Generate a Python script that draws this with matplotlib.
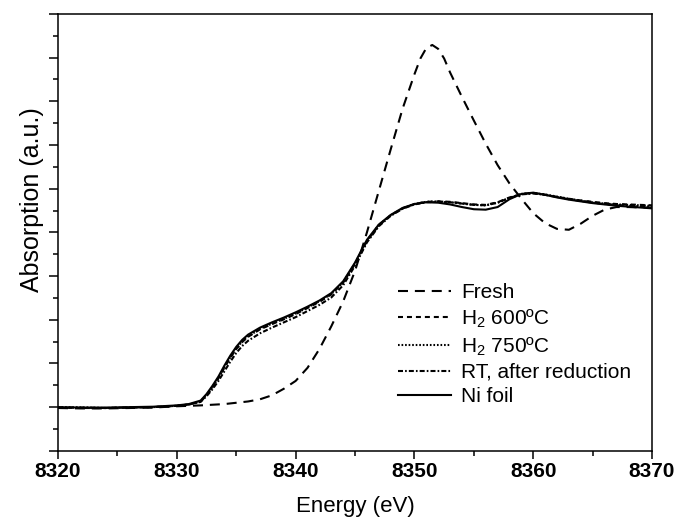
import numpy as np
import matplotlib.pyplot as plt
from matplotlib.ticker import MultipleLocator

plt.rcParams['font.family'] = ['Liberation Sans', 'DejaVu Sans']
plt.rcParams['mathtext.fontset'] = 'custom'
plt.rcParams['mathtext.rm'] = 'Liberation Sans'

# energy grid of the fresh sample (eV)
e_fresh = [8320, 8322, 8324, 8326, 8328, 8330, 8332, 8334, 8336, 8337, 8338, 8339,
           8340, 8341, 8342, 8343, 8344, 8345, 8346, 8347, 8348, 8349, 8350, 8350.5,
           8351, 8351.5, 8352, 8352.5, 8353, 8354, 8355, 8356, 8357, 8358, 8359, 8360,
           8361, 8362, 8363, 8364, 8365, 8366, 8367, 8368, 8369, 8370]
fresh = [0.98, 0.97, 0.97, 0.98, 0.99, 1.02, 1.04, 1.07, 1.13, 1.18, 1.27, 1.42,
         1.60, 1.90, 2.33, 2.85, 3.42, 4.12, 5.00, 5.95, 6.90, 7.83, 8.62, 8.98,
         9.22, 9.29, 9.20, 8.98, 8.66, 8.10, 7.56, 7.03, 6.54, 6.12, 5.77, 5.44,
         5.21, 5.08, 5.06, 5.20, 5.38, 5.52, 5.58, 5.58, 5.57, 5.57]

# energy grid of the reduced samples and the foil (eV)
e_red = [8320, 8322, 8324, 8326, 8328, 8330, 8331, 8332, 8332.5, 8333, 8333.5, 8334,
         8334.5, 8335, 8335.5, 8336, 8337, 8338, 8339, 8340, 8341, 8342, 8343, 8344,
         8345, 8346, 8347, 8348, 8349, 8350, 8351, 8352, 8353, 8354, 8355, 8356,
         8357, 8358, 8359, 8360, 8361, 8362, 8363, 8364, 8365, 8366, 8367, 8368,
         8369, 8370]
h2_600 = [0.99, 0.98, 0.98, 0.99, 1.00, 1.03, 1.06, 1.13, 1.27, 1.45, 1.66, 1.90,
          2.13, 2.33, 2.49, 2.61, 2.78, 2.90, 3.01, 3.13, 3.27, 3.41, 3.58, 3.85,
          4.28, 4.80, 5.16, 5.39, 5.55, 5.65, 5.70, 5.71, 5.70, 5.67, 5.64, 5.63,
          5.69, 5.80, 5.88, 5.90, 5.86, 5.81, 5.77, 5.73, 5.70, 5.67, 5.65, 5.64,
          5.63, 5.62]
h2_750 = [1.00, 0.99, 0.98, 0.99, 1.00, 1.03, 1.06, 1.13, 1.28, 1.46, 1.67, 1.91,
          2.14, 2.34, 2.50, 2.62, 2.79, 2.91, 3.02, 3.14, 3.28, 3.42, 3.59, 3.86,
          4.29, 4.81, 5.17, 5.39, 5.55, 5.65, 5.70, 5.71, 5.69, 5.66, 5.63, 5.62,
          5.68, 5.79, 5.88, 5.90, 5.87, 5.82, 5.77, 5.73, 5.69, 5.66, 5.64, 5.63,
          5.62, 5.61]
rt_red = [0.99, 0.99, 0.98, 0.99, 1.00, 1.03, 1.06, 1.12, 1.25, 1.41, 1.60, 1.82,
          2.04, 2.24, 2.40, 2.52, 2.69, 2.82, 2.94, 3.06, 3.20, 3.34, 3.51, 3.79,
          4.24, 4.77, 5.14, 5.38, 5.54, 5.64, 5.69, 5.70, 5.69, 5.66, 5.63, 5.62,
          5.68, 5.79, 5.87, 5.89, 5.86, 5.81, 5.76, 5.72, 5.68, 5.65, 5.63, 5.61,
          5.60, 5.59]
ni_foil = [1.00, 0.99, 0.99, 1.00, 1.01, 1.04, 1.07, 1.15, 1.30, 1.49, 1.70, 1.95,
           2.18, 2.38, 2.54, 2.66, 2.82, 2.94, 3.05, 3.17, 3.30, 3.44, 3.61, 3.88,
           4.31, 4.83, 5.18, 5.40, 5.56, 5.65, 5.69, 5.68, 5.64, 5.58, 5.53, 5.52,
           5.58, 5.76, 5.88, 5.91, 5.86, 5.80, 5.75, 5.71, 5.67, 5.64, 5.61, 5.59,
           5.57, 5.55]

labels = ['Fresh', r'H$_2$ 600ºC', r'H$_2$ 750ºC', 'RT, after reduction', 'Ni foil']

fig = plt.figure(figsize=(6.75, 5.17), dpi=100)
ax = fig.add_axes([0.086, 0.128, 0.880, 0.845])

lw = 1.5
ax.plot(e_fresh, fresh, color='black', lw=lw, ls=(0, (4.8, 3.3)), label=labels[0])
ax.plot(e_red, h2_600, color='black', lw=lw, ls=(0, (2.4, 1.9)), label=labels[1])
ax.plot(e_red, h2_750, color='black', lw=lw, ls=(0, (0.8, 0.9)), label=labels[2])
ax.plot(e_red, rt_red, color='black', lw=lw, ls=(0, (2.4, 1.0, 0.8, 1.0)), label=labels[3])
ax.plot(e_red, ni_foil, color='black', lw=lw, ls='-', label=labels[4])

ax.set_xlim(8320, 8370)
ax.set_ylim(0, 10)
ax.xaxis.set_major_locator(MultipleLocator(10))
ax.xaxis.set_minor_locator(MultipleLocator(5))
ax.yaxis.set_major_locator(MultipleLocator(1))
ax.yaxis.set_minor_locator(MultipleLocator(0.5))
ax.tick_params(axis='both', which='major', direction='out', width=1.1, color='black')
ax.tick_params(axis='both', which='minor', direction='out', width=1.1, color='black')
ax.tick_params(axis='x', which='major', length=5.5, pad=2.5, labelsize=15)
ax.tick_params(axis='x', which='minor', length=3.5)
ax.tick_params(axis='y', which='major', length=6.5, labelleft=False)
ax.tick_params(axis='y', which='minor', length=3.5)
for lab in ax.get_xticklabels():
    lab.set_fontweight('bold')
for sp in ax.spines.values():
    sp.set_linewidth(1.1)

ax.set_xlabel('Energy (eV)', fontsize=16, labelpad=11)
ax.set_ylabel('Absorption (a.u.)', fontsize=18)
ax.yaxis.set_label_coords(-0.024, 0.574)

ax.legend(loc='center left', bbox_to_anchor=(0.559, 0.243), frameon=False,
          fontsize=15, handlelength=2.5, handletextpad=0.5, labelspacing=0.25,
          borderaxespad=0)

fig.savefig('out.png', dpi=100)
